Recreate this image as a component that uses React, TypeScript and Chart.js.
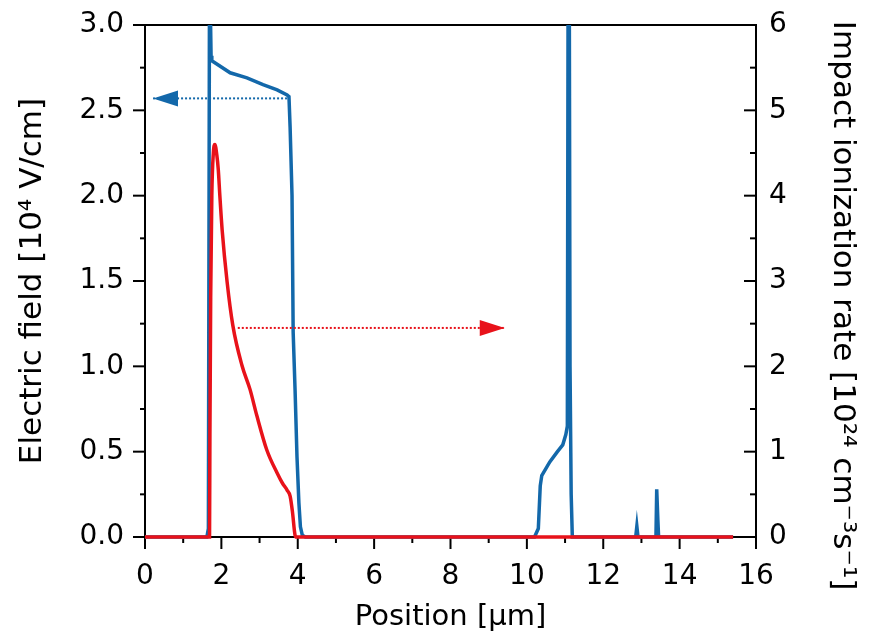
import { useEffect, useRef } from "react"
import { Chart, registerables } from "chart.js"

Chart.register(...registerables)

// Electric field (left axis, 10^4 V/cm)
const fieldX = [
  0, 1.62, 1.66, 1.69, 1.73, 1.75, 2.23, 2.67, 3.09, 3.46, 3.72, 3.77, 3.8, 3.85, 3.88, 3.93, 3.98,
  4.03, 4.07, 4.12, 4.2, 10.2, 10.3, 10.35, 10.39, 10.6, 10.8, 10.94, 11.02, 11.06, 11.08, 11.11,
  11.13, 11.16, 11.19, 12.85, 12.88, 12.91, 13.38, 13.4, 13.43, 13.45, 15.4,
]
const fieldY = [
  0, 0, 0.05, 3.4, 2.82, 2.79, 2.72, 2.69, 2.65, 2.62, 2.59, 2.58, 2.4, 2.0, 1.2, 0.86, 0.47,
  0.2, 0.06, 0.01, 0, 0, 0.05, 0.3, 0.36, 0.44, 0.5, 0.54, 0.6, 0.65, 3.3, 3.3,
  1.0, 0.25, 0, 0, 0.063, 0, 0, 0.28, 0.1, 0, 0,
]

// Impact ionization rate (right axis, 10^24 cm^-3 s^-1)
const rateX = [
  0, 1.69, 1.7, 1.72, 1.75, 1.79, 1.83, 1.88, 1.92, 1.96, 2.02, 2.15, 2.3, 2.54, 2.75, 2.93,
  3.19, 3.46, 3.6, 3.72, 3.8, 3.86, 3.93, 3.96, 15.4,
]
const rateY = [
  0, 0, 1.2, 2.8, 4.0, 4.5, 4.6, 4.48, 4.3, 4.0, 3.6, 2.99, 2.48, 2.01, 1.73, 1.42,
  1.02, 0.75, 0.63, 0.55, 0.48, 0.3, 0.02, 0, 0,
]

// annotation arrows: [start, tip]
const fieldArrowX = [3.72, 0.21]
const fieldArrowY = [2.57, 2.57]
const rateArrowX = [2.43, 9.42]
const rateArrowY = [2.45, 2.45]

const BLUE = "#1368aa"
const RED = "#e8121a"
const FONT = "'DejaVu Sans', 'Liberation Sans', Arial, sans-serif"

const pts = (xs: number[], ys: number[]) => xs.map((x, i) => ({ x, y: ys[i] }))

const framePlugin = {
  id: "frame",
  beforeDatasetsDraw(chart: any) {
    const { ctx, chartArea: a, scales } = chart
    ctx.save()
    ctx.strokeStyle = "#000"
    ctx.lineWidth = 2
    ctx.lineCap = "butt"
    ctx.strokeRect(a.left, a.top, a.right - a.left, a.bottom - a.top)

    const line = (x1: number, y1: number, x2: number, y2: number) => {
      ctx.beginPath()
      ctx.moveTo(x1, y1)
      ctx.lineTo(x2, y2)
      ctx.stroke()
    }
    const ticksOf = (s: any) => {
      const major = s.ticks.map((t: any) => t.value)
      const minor = major.slice(1).map((v: number, i: number) => (v + major[i]) / 2)
      return { major, minor }
    }

    const xs = ticksOf(scales.x)
    xs.major.forEach((v: number) => {
      const p = scales.x.getPixelForValue(v)
      line(p, a.bottom, p, a.bottom + 12)
    })
    xs.minor.forEach((v: number) => {
      const p = scales.x.getPixelForValue(v)
      line(p, a.bottom, p, a.bottom + 6)
    })

    const ys = ticksOf(scales.y)
    ys.major.forEach((v: number) => {
      const p = scales.y.getPixelForValue(v)
      line(a.left - 12, p, a.left, p)
    })
    ys.minor.forEach((v: number) => {
      const p = scales.y.getPixelForValue(v)
      line(a.left - 5, p, a.left, p)
    })

    const rs = ticksOf(scales.y1)
    rs.major.forEach((v: number) => {
      const p = scales.y1.getPixelForValue(v)
      line(a.right - 12, p, a.right, p)
    })
    rs.minor.forEach((v: number) => {
      const p = scales.y1.getPixelForValue(v)
      line(a.right - 6, p, a.right, p)
    })
    ctx.restore()
  },
}

// arrow heads on the last point of the dotted datasets
const arrowPlugin = {
  id: "arrowHeads",
  afterDatasetsDraw(chart: any) {
    const { ctx } = chart
    chart.data.datasets.forEach((ds: any, i: number) => {
      if (!ds.arrow) return
      const data = chart.getDatasetMeta(i).data
      const tip = data[data.length - 1]
      const prev = data[data.length - 2]
      const ang = Math.atan2(tip.y - prev.y, tip.x - prev.x)
      const len = 25
      const half = 8
      const bx = tip.x - Math.cos(ang) * len
      const by = tip.y - Math.sin(ang) * len
      ctx.save()
      ctx.fillStyle = ds.borderColor
      ctx.beginPath()
      ctx.moveTo(tip.x, tip.y)
      ctx.lineTo(bx - Math.sin(ang) * half, by + Math.cos(ang) * half)
      ctx.lineTo(bx + Math.sin(ang) * half, by - Math.cos(ang) * half)
      ctx.closePath()
      ctx.fill()
      ctx.restore()
    })
  },
}

export default function App() {
  const canvasRef = useRef<HTMLCanvasElement>(null)

  useEffect(() => {
    if (!canvasRef.current) return
    const tickFont = { family: FONT, size: 28 }
    const titleFont = { family: FONT, size: 29, lineHeight: 1.2 }
    const sideTitleFont = { family: FONT, size: 31, lineHeight: 1.2 }
    const clip = { left: 4, right: 4, top: 0, bottom: 4 }

    const chart = new Chart(canvasRef.current, {
      type: "line",
      data: {
        datasets: [
          {
            data: pts(rateArrowX, rateArrowY),
            yAxisID: "y1",
            borderColor: RED,
            borderWidth: 2,
            borderDash: [2, 2],
            pointRadius: 0,
            arrow: true,
            clip,
          } as any,
          {
            data: pts(fieldArrowX, fieldArrowY),
            yAxisID: "y",
            borderColor: BLUE,
            borderWidth: 2,
            borderDash: [2, 2],
            pointRadius: 0,
            arrow: true,
            clip,
          } as any,
          {
            label: "Impact ionization rate",
            data: pts(rateX, rateY),
            yAxisID: "y1",
            borderColor: RED,
            borderWidth: 3.5,
            pointRadius: 0,
            cubicInterpolationMode: "monotone",
            clip,
          },
          {
            label: "Electric field",
            data: pts(fieldX, fieldY),
            yAxisID: "y",
            borderColor: BLUE,
            borderWidth: 3.5,
            pointRadius: 0,
            tension: 0,
            clip,
          },
        ],
      },
      options: {
        responsive: true,
        maintainAspectRatio: false,
        animation: false,
        layout: { padding: { top: 25, left: 0, right: 0, bottom: 0 } },
        plugins: {
          legend: { display: false },
          tooltip: { enabled: false },
        },
        scales: {
          x: {
            type: "linear",
            min: 0,
            max: 16,
            grid: { display: false, drawTicks: false },
            border: { display: false },
            ticks: { stepSize: 2, font: tickFont, color: "#000", padding: 23, maxRotation: 0 },
            title: {
              display: true,
              text: "Position [μm]",
              font: titleFont,
              color: "#000",
              padding: { top: 0, bottom: 8 },
            },
            afterFit: (s: any) => {
              s.height = 106
              s.paddingLeft = 0
              s.paddingRight = 0
            },
          },
          y: {
            position: "left",
            min: 0,
            max: 3,
            grid: { display: false, drawTicks: false },
            border: { display: false },
            ticks: {
              stepSize: 0.5,
              font: tickFont,
              color: "#000",
              padding: 21,
              callback: (v: any) => Number(v).toFixed(1),
            },
            title: {
              display: true,
              text: "Electric field [10⁴ V/cm]",
              font: sideTitleFont,
              color: "#000",
              padding: { top: 14, bottom: 0 },
            },
            afterFit: (s: any) => {
              s.width = 145
              s.paddingTop = 0
              s.paddingBottom = 0
            },
          },
          y1: {
            position: "right",
            min: 0,
            max: 6,
            grid: { display: false, drawTicks: false },
            border: { display: false },
            ticks: { stepSize: 1, font: tickFont, color: "#000", padding: 13 },
            title: {
              display: true,
              text: "     Impact ionization rate [10²⁴ cm⁻³s⁻¹]",
              font: sideTitleFont,
              color: "#000",
              padding: { top: 10, bottom: 0 },
            },
            afterFit: (s: any) => {
              s.width = 115
              s.paddingTop = 0
              s.paddingBottom = 0
            },
          },
        },
      },
      plugins: [framePlugin, arrowPlugin],
    })

    return () => {
      chart.destroy()
    }
  }, [])

  return (
    <div style={{ position: "absolute", left: 0, top: 0, width: 871, height: 643, background: "#fff" }}>
      <canvas ref={canvasRef}></canvas>
    </div>
  )
}
